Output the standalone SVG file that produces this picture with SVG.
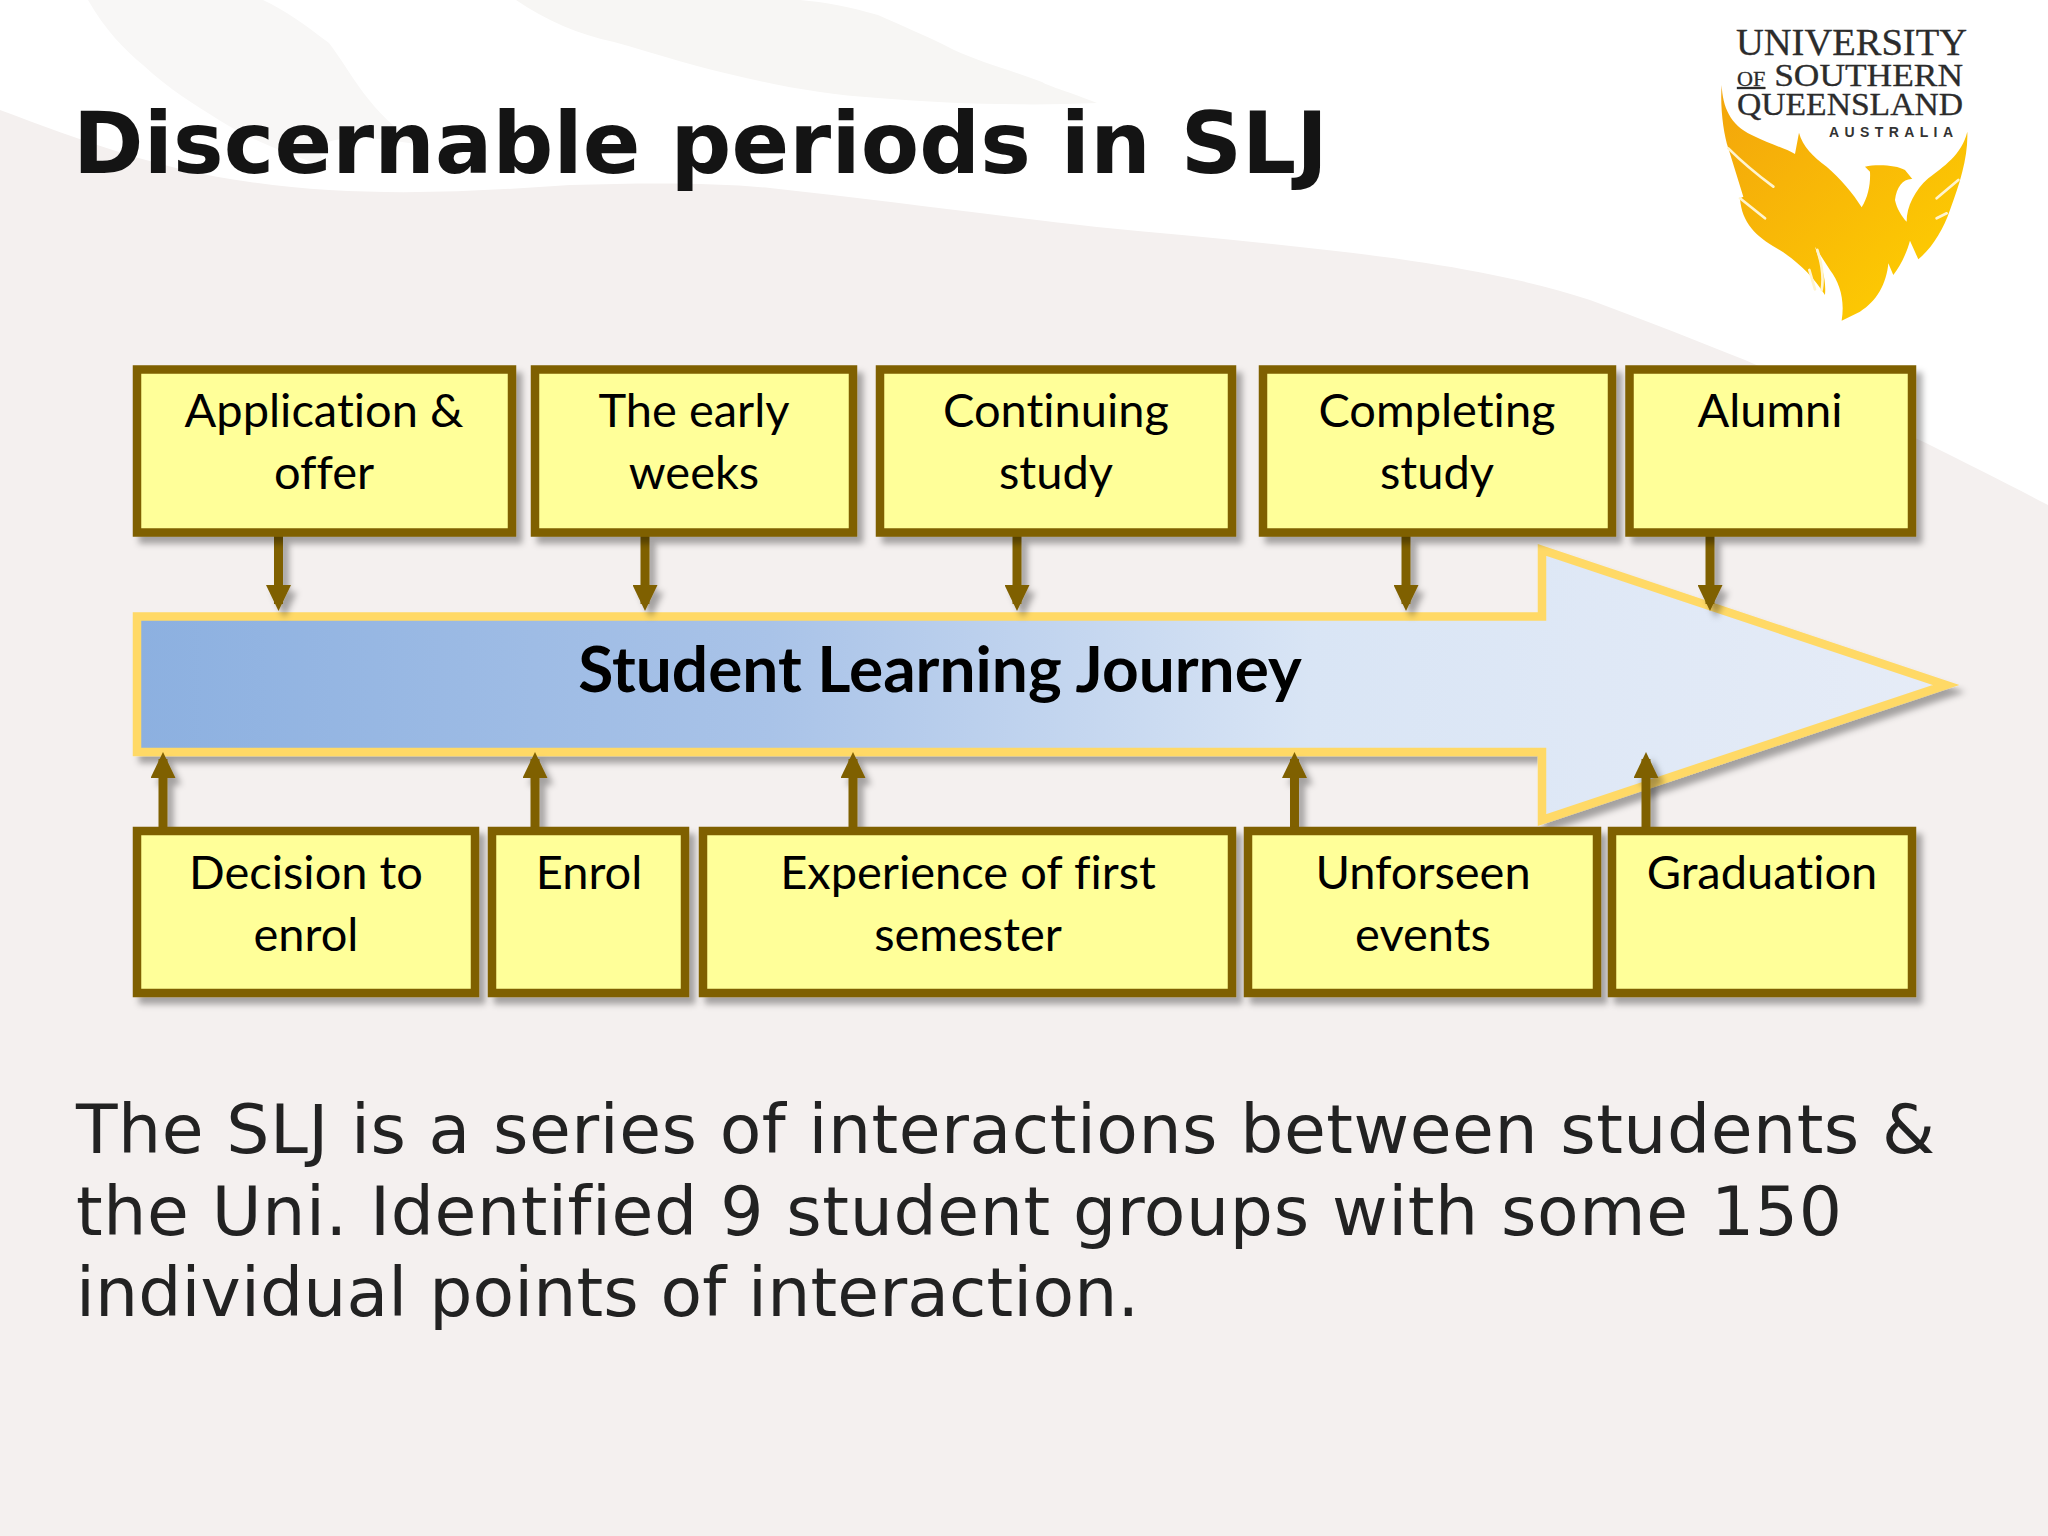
<svg xmlns="http://www.w3.org/2000/svg" width="2048" height="1536" viewBox="0 0 2048 1536">
<defs>
<linearGradient id="arrowFill" x1="0" x2="1" y1="0" y2="0"><stop offset="0" stop-color="#8cb0e0"/><stop offset="0.35" stop-color="#a9c3e8"/><stop offset="0.65" stop-color="#d9e5f5"/><stop offset="1" stop-color="#e6ecf7"/></linearGradient>
<linearGradient id="bird" x1="0" x2="1" y1="0" y2="1"><stop offset="0" stop-color="#f3a50c"/><stop offset="1" stop-color="#ffd200"/></linearGradient>
<filter id="sh" x="-10%" y="-10%" width="125%" height="130%"><feDropShadow dx="6" dy="7" stdDeviation="3" flood-color="#000" flood-opacity="0.33"/></filter>
<marker id="ah" viewBox="0 0 26 25" refX="19" refY="12.5" markerWidth="26" markerHeight="25" markerUnits="userSpaceOnUse" orient="auto"><path d="M0 0L26 12.5L0 25Z" fill="#7f6000"/></marker>
</defs>
<style>
.box{fill:#ffff99;stroke:#7f6000;stroke-width:8.5;filter:url(#sh)}
.lbl{font-family:Lato,"Liberation Sans",sans-serif;font-size:47px;fill:#000;text-anchor:middle;font-variant-ligatures:none}
.body{font-family:"DejaVu Sans",sans-serif;font-size:68px;fill:#222;font-variant-ligatures:none}
.c{fill:none;stroke:#7f6000;stroke-width:9;marker-end:url(#ah)}
.logo{font-family:"Liberation Serif",serif;fill:#2c2c2c;stroke:#2c2c2c;stroke-width:.3}
</style>
<rect id="background" width="2048" height="1536" fill="#f4f0ef"/>
<g id="swooshes">
<path fill="#fff" d="M0 0V110C80 140 160 170 250 182C360 198 470 192 570 185C640 183 710 182 770 188C880 200 1000 216 1097 227C1210 238 1330 248 1426 263C1490 273 1545 285 1590 300C1650 322 1700 342 1745 360C1810 388 1870 418 1926 443C1970 465 2010 485 2048 505V0Z"/>
<path fill="#f8f7f6" d="M88 0C105 30 125 50 143 65C170 90 195 105 219 120C250 140 290 155 330 168C300 140 340 130 420 145C370 115 350 70 329 43C305 25 285 10 263 0Z"/>
<path fill="#f7f6f4" d="M516 0C545 20 580 35 614 42C660 55 700 68 746 78C790 88 830 95 878 98C950 104 1030 106 1097 103C1070 92 1050 87 1042 82C1010 70 980 62 954 50C925 35 900 25 878 15C850 7 825 2 800 0Z"/>
</g>
<text id="title" x="73" y="173" font-family="DejaVu Sans, sans-serif" font-weight="700" font-size="85" fill="#141414" textLength="1255">Discernable periods in SLJ</text>
<g id="logo">
<text class="logo" x="1736" y="55" textLength="231" lengthAdjust="spacingAndGlyphs" style="font-size:38px">UNIVERSITY</text>
<text class="logo" x="1737" y="86" textLength="226" lengthAdjust="spacingAndGlyphs" style="font-size:32px"><tspan style="font-size:20px;text-decoration:underline">OF</tspan> SOUTHERN</text>
<text class="logo" x="1737" y="115" textLength="226" lengthAdjust="spacingAndGlyphs" style="font-size:31px">QUEENSLAND</text>
<text x="1829" y="137" textLength="124" style="font-family:'Liberation Sans',sans-serif;font-weight:700;font-size:14px;fill:#333">AUSTRALIA</text>
<g transform="translate(1680 0) scale(.3333)">
<path fill="url(#bird)" d="M125 255C128 320 150 375 215 405C265 430 315 445 345 462L357 398C368 440 400 470 440 500C480 535 520 580 545 622C565 590 572 550 570 515L555 500C590 492 650 495 675 510L697 537C670 535 650 560 645 600C650 625 665 650 680 665C680 620 705 570 745 535C790 500 845 465 862 395C865 470 840 550 810 630C790 690 755 745 715 778L690 722C680 760 660 800 640 825L625 790C620 850 590 905 540 935L485 962C495 900 480 850 450 810L405 740C420 790 440 830 435 885C400 830 350 780 290 745C230 710 185 670 180 595L190 590L145 445C130 400 120 320 125 255Z"/>
<path fill="none" stroke="#fff4cf" stroke-width="8" stroke-linecap="round" d="M145 445C190 490 240 530 280 560M180 595L255 655M412 750C425 790 432 830 425 870M388 810L405 868M770 595L835 540M770 655L800 640"/>
</g>
</g>
<g id="journey-arrow"><path d="M137 616.5H1542V550L1946 685L1542 820V752H137Z" fill="url(#arrowFill)" stroke="#ffd966" stroke-width="8.5" filter="url(#sh)"/>
<text x="940" y="692" font-family="Lato,'Liberation Sans',sans-serif" font-weight="700" font-size="64" text-anchor="middle" fill="#000">Student Learning Journey</text></g>
<g id="connectors" filter="url(#sh)">
<path class="c" d="M278.5 536V604"/><path class="c" d="M645 536V604"/><path class="c" d="M1017 536V604"/><path class="c" d="M1406 536V604"/><path class="c" d="M1710 536V604"/>
<path class="c" d="M163 830V759"/><path class="c" d="M535 830V759"/><path class="c" d="M853 830V759"/><path class="c" d="M1294.5 830V759"/><path class="c" d="M1646 830V759"/>
</g>
<g id="n1"><rect class="box" x="137" y="369.500" width="375" height="163"/><text class="lbl" x="324" y="427">Application &amp;</text><text class="lbl" x="324" y="489">offer</text></g>
<g id="n2"><rect class="box" x="535" y="369.500" width="318" height="163"/><text class="lbl" x="694" y="427">The early</text><text class="lbl" x="694" y="489">weeks</text></g>
<g id="n3"><rect class="box" x="880" y="369.500" width="352" height="163"/><text class="lbl" x="1056" y="427">Continuing</text><text class="lbl" x="1056" y="489">study</text></g>
<g id="n4"><rect class="box" x="1263" y="369.500" width="349" height="163"/><text class="lbl" x="1437" y="427">Completing</text><text class="lbl" x="1437" y="489">study</text></g>
<g id="n5"><rect class="box" x="1629.500" y="369.500" width="282.500" height="163"/><text class="lbl" x="1770" y="427">Alumni</text></g>
<g id="n6"><rect class="box" x="137" y="831" width="338" height="162"/><text class="lbl" x="306" y="889">Decision to</text><text class="lbl" x="306" y="951">enrol</text></g>
<g id="n7"><rect class="box" x="492" y="831" width="193" height="162"/><text class="lbl" x="589" y="889">Enrol</text></g>
<g id="n8"><rect class="box" x="703" y="831" width="529" height="162"/><text class="lbl" x="968" y="889">Experience of first</text><text class="lbl" x="968" y="951">semester</text></g>
<g id="n9"><rect class="box" x="1248" y="831" width="349" height="162"/><text class="lbl" x="1423" y="889">Unforseen</text><text class="lbl" x="1423" y="951">events</text></g>
<g id="n10"><rect class="box" x="1612" y="831" width="300" height="162"/><text class="lbl" x="1762" y="889">Graduation</text></g>
<g id="body"><text class="body" x="76" y="1153" textLength="1859">The SLJ is a series of interactions between students &amp;</text><text class="body" x="76" y="1235" textLength="1766">the Uni. Identified 9 student groups with some 150</text><text class="body" x="76" y="1316" textLength="1063">individual points of interaction.</text></g>
</svg>
